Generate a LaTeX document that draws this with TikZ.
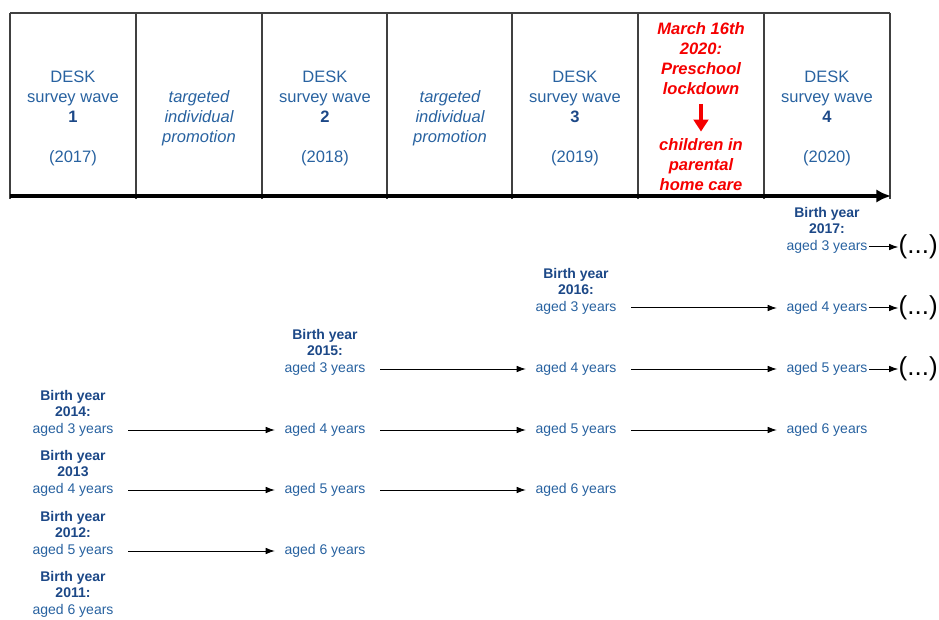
\documentclass[tikz,border=0pt]{standalone}
\usepackage{fontspec}
\setmainfont{Liberation Sans}
\usetikzlibrary{positioning,arrows.meta}
\definecolor{deskblue}{RGB}{40,98,160}
\definecolor{darkblue}{RGB}{28,72,135}
\definecolor{lockred}{RGB}{245,0,0}
\newcommand{\wavecell}[3]{
  \node[wave] (wave#2) at (#1,118) {DESK\\survey wave\\\textbf{\color{darkblue}#2}\\[15pt](#3)};% one survey column
}
\newcommand{\cohort}[5]{
  \node[aged] (#1) at (#2,#3) {aged #5 years};
  \node[birth,above=4pt of #1] (#1b) {Birth year\\#4};% label sits on the first age
}
\tikzset{
  wave/.style={align=center,text=deskblue,font=\fontsize{12.4}{15}\selectfont},
  promo/.style={wave,font=\fontsize{12.4}{15}\selectfont\itshape},
  lock/.style={align=center,text=lockred,font=\fontsize{12.4}{15}\selectfont\bfseries\itshape},
  aged/.style={inner sep=1pt,text=deskblue,font=\fontsize{10.5}{12}\selectfont},
  birth/.style={inner sep=0pt,align=center,text=darkblue,font=\fontsize{10.5}{12}\selectfont\bfseries},
  more/.style={inner sep=0pt,font=\fontsize{19.5}{24}\selectfont},
  cell line/.style={draw=black!75,line width=0.8pt},
  step arrow/.style={-{Latex[length=7pt,width=5pt]},line width=0.75pt,shorten <=10pt,shorten >=6pt},
  more arrow/.style={-{Latex[length=7pt,width=5pt]},line width=0.75pt},
}
\begin{document}
\begin{tikzpicture}[x=0.75pt,y=-0.75pt]
  \useasboundingbox (0,0) rectangle (939,620);

  % the table of waves
  \draw[cell line] (10,13) -- (890,13);
  \foreach \x in {10,136,262,387,512,638,764,890}
    \draw[cell line] (\x,13) -- (\x,199);
  \draw[line width=3pt,-{Latex[length=11pt,width=10pt]}] (10,196) -- (891,196);

  \wavecell{73}{1}{2017}
  \wavecell{325}{2}{2018}
  \wavecell{575}{3}{2019}
  \wavecell{827}{4}{2020}
  \node[promo] (promo1) at (199,118) {targeted\\individual\\promotion};
  \node[promo] (promo2) at (450,118) {targeted\\individual\\promotion};

  \node[lock] (lock) at (701,59) {March 16th\\2020:\\Preschool\\lockdown};
  \node[lock] (care) at (701,165) {children in\\parental\\home care};
  \draw[lockred,line width=3pt,-{Triangle[length=9pt,width=11pt]},shorten <=3pt,shorten >=2pt] (lock) -- (care);

  % cohorts, one row each
  \cohort{c17w4}{827}{247}{2017:}{3}
  \cohort{c16w3}{576}{308}{2016:}{3}
  \cohort{c15w2}{325}{369}{2015:}{3}
  \cohort{c14w1}{73}{430}{2014:}{3}
  \cohort{c13w1}{73}{490}{2013}{4}
  \cohort{c12w1}{73}{551}{2012:}{5}
  \cohort{c11w1}{73}{611}{2011:}{6}

  \node[aged] (c16w4) at (827,308) {aged 4 years};
  \node[aged] (c15w3) at (576,369) {aged 4 years};
  \node[aged] (c15w4) at (827,369) {aged 5 years};
  \node[aged] (c14w2) at (325,430) {aged 4 years};
  \node[aged] (c14w3) at (576,430) {aged 5 years};
  \node[aged] (c14w4) at (827,430) {aged 6 years};
  \node[aged] (c13w2) at (325,490) {aged 5 years};
  \node[aged] (c13w3) at (576,490) {aged 6 years};
  \node[aged] (c12w2) at (325,551) {aged 6 years};

  \foreach \a/\b in {c16w3/c16w4,c15w2/c15w3,c15w3/c15w4,c14w1/c14w2,c14w2/c14w3,
      c14w3/c14w4,c13w1/c13w2,c13w2/c13w3,c12w1/c12w2}
    \draw[step arrow] (\a) -- (\b);

  % still to come
  \foreach \c in {c17w4,c16w4,c15w4}{
    \node[more,right=22pt of \c] (more\c) {(...)};
    \draw[more arrow] (\c) -- (more\c);
  }
\end{tikzpicture}
\end{document}
